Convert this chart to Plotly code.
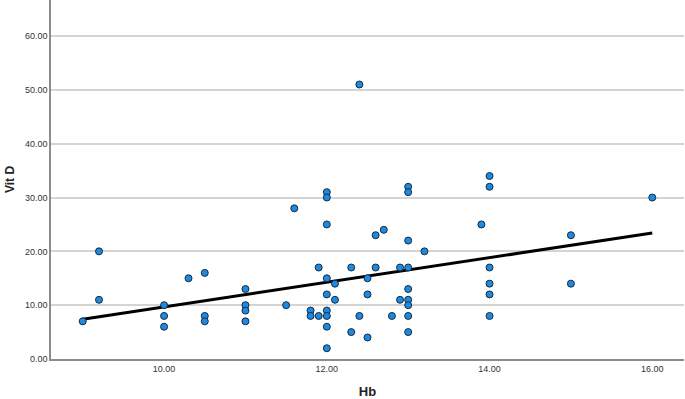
import plotly.graph_objects as go

hb = [9.0, 9.2, 9.2, 10.0, 10.0, 10.0, 10.3, 10.5, 10.5, 10.5,
      11.0, 11.0, 11.0, 11.0, 11.5, 11.6, 11.8, 11.8, 11.9, 11.9,
      12.0, 12.0, 12.0, 12.0, 12.0, 12.0, 12.0, 12.0, 12.0, 12.1, 12.1,
      12.3, 12.3, 12.4, 12.4, 12.5, 12.5, 12.5, 12.6, 12.6, 12.7, 12.8,
      12.9, 12.9, 13.0, 13.0, 13.0, 13.0, 13.0, 13.0, 13.0, 13.0, 13.0,
      13.2, 13.9, 14.0, 14.0, 14.0, 14.0, 14.0, 14.0, 15.0, 15.0, 16.0]
vitd = [7, 20, 11, 10, 8, 6, 15, 16, 8, 7,
        13, 10, 9, 7, 10, 28, 9, 8, 17, 8,
        31, 30, 25, 15, 12, 9, 8, 6, 2, 14, 11,
        17, 5, 8, 51, 15, 12, 4, 23, 17, 24, 8,
        17, 11, 32, 31, 22, 17, 13, 11, 10, 8, 5,
        20, 25, 34, 32, 17, 14, 12, 8, 23, 14, 30]

# fit line: Vit D at the smallest and largest Hb
fit_hb = [min(hb), max(hb)]
fit_vitd = [7.4, 23.4]

x_ticks = [10, 12, 14, 16]
y_ticks = [0, 10, 20, 30, 40, 50, 60]

fig = go.Figure()
fig.add_trace(go.Scatter(x=fit_hb, y=fit_vitd, mode="lines",
                         line=dict(color="black", width=3), hoverinfo="skip"))
fig.add_trace(go.Scatter(x=hb, y=vitd, mode="markers",
                         marker=dict(color="#1b8ae4", size=7,
                                     line=dict(color="#1a2a3a", width=1))))

fig.update_layout(
    width=685, height=399,
    margin=dict(l=51, r=1, t=0, b=40, autoexpand=False),
    paper_bgcolor="white", plot_bgcolor="white",
    showlegend=False,
    font=dict(family="Arial, Liberation Sans, sans-serif", color="#333333"),
)
fig.update_xaxes(range=[8.61, 16.39], tickvals=x_ticks,
                 ticktext=[f"{v:.2f}" for v in x_ticks],
                 showgrid=False, zeroline=False, automargin=False,
                 showline=True, linecolor="#8c8c8c", linewidth=1.5,
                 ticks="", tickfont=dict(size=9, color="#333333"),
                 title=dict(text="<b>Hb</b>", font=dict(size=13, color="#222222"), standoff=14))
fig.update_yaxes(range=[0, 66.7], tickvals=y_ticks,
                 ticktext=[f"{v:.2f}" for v in y_ticks],
                 showgrid=True, gridcolor="#d4d4d4", gridwidth=1.5,
                 zeroline=False, automargin=False,
                 showline=True, linecolor="#8c8c8c", linewidth=1.5,
                 ticks="", tickfont=dict(size=9, color="#333333"),
                 title=dict(text="<b>Vit D</b>", font=dict(size=12, color="#222222"), standoff=8))

fig.write_html("out.html", config={"displayModeBar": False},
               post_script="document.body.style.margin='0px';document.body.style.overflow='hidden';")
